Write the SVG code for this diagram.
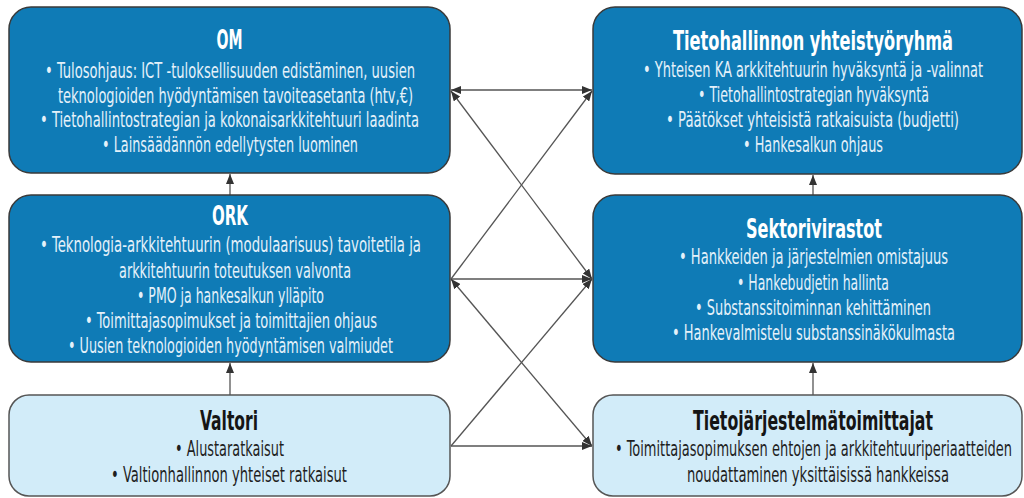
<svg xmlns="http://www.w3.org/2000/svg" width="1024" height="498" viewBox="0 0 1024 498">
<style>
.dark{fill:#0F7BB6;stroke:#3a3a3a;stroke-width:1.5}
.light{fill:#D2ECF9;stroke:#555;stroke-width:1.5}
text{font-family:"Liberation Sans Narrow","DejaVu Sans Condensed","Liberation Sans",sans-serif;text-anchor:middle}
.t{font-size:26px;font-weight:bold}
.b{font-size:21px}
.dark-t{fill:#FFFFFF}
.dark-b{fill:#E4F1FA}
.light-t{fill:#151515}
.light-b{fill:#1f1f1f}
.c{stroke:#555;stroke-width:1.3;fill:none}
</style>
<defs>
<marker id="ah" viewBox="0 0 10 8" refX="10" refY="4" markerWidth="10" markerHeight="8" markerUnits="userSpaceOnUse" orient="auto-start-reverse">
<path d="M0,0 L10,4 L0,8 z" fill="#333"/>
</marker>
</defs>
<rect width="1024" height="498" fill="#fff"/>
<g id="connectors">
<line class="c" x1="451" y1="90" x2="592" y2="90" marker-start="url(#ah)" marker-end="url(#ah)"/>
<line class="c" x1="451" y1="91" x2="592" y2="279" marker-start="url(#ah)" marker-end="url(#ah)"/>
<line class="c" x1="451" y1="279" x2="592" y2="91" marker-end="url(#ah)"/>
<line class="c" x1="451" y1="279" x2="592" y2="279" marker-end="url(#ah)"/>
<line class="c" x1="451" y1="279" x2="592" y2="446" marker-start="url(#ah)" marker-end="url(#ah)"/>
<line class="c" x1="451" y1="446" x2="592" y2="279" marker-end="url(#ah)"/>
<line class="c" x1="451" y1="446" x2="592" y2="446" marker-end="url(#ah)"/>
<line class="c" x1="230" y1="195" x2="230" y2="174" marker-end="url(#ah)"/>
<line class="c" x1="230" y1="395" x2="230" y2="363" marker-end="url(#ah)"/>
<line class="c" x1="813" y1="195" x2="813" y2="175" marker-end="url(#ah)"/>
<line class="c" x1="813" y1="395" x2="813" y2="363" marker-end="url(#ah)"/>
</g>
<g id="om">
<rect class="dark" x="9" y="7" width="441" height="166" rx="22"/>
<text class="t dark-t" transform="translate(229.5,49) scale(0.62,1)" textLength="41.9" lengthAdjust="spacingAndGlyphs">OM</text>
<text class="b dark-b" transform="translate(230,78) scale(0.62,1)" textLength="596.8" lengthAdjust="spacingAndGlyphs">• Tulosohjaus: ICT -tuloksellisuuden edistäminen, uusien</text>
<text class="b dark-b" transform="translate(235.5,103) scale(0.62,1)" textLength="572.6" lengthAdjust="spacingAndGlyphs">teknologioiden hyödyntämisen tavoiteasetanta (htv,€)</text>
<text class="b dark-b" transform="translate(229.5,127) scale(0.62,1)" textLength="611.3" lengthAdjust="spacingAndGlyphs">• Tietohallintostrategian ja kokonaisarkkitehtuuri laadinta</text>
<text class="b dark-b" transform="translate(230,152) scale(0.62,1)" textLength="412.9" lengthAdjust="spacingAndGlyphs">• Lainsäädännön edellytysten luominen</text>
</g>
<g id="tietohallinnon">
<rect class="dark" x="593" y="7" width="429" height="167" rx="22"/>
<text class="t dark-t" transform="translate(813,50) scale(0.62,1)" textLength="451.6" lengthAdjust="spacingAndGlyphs">Tietohallinnon  yhteistyöryhmä</text>
<text class="b dark-b" transform="translate(813,77) scale(0.62,1)" textLength="548.4" lengthAdjust="spacingAndGlyphs">• Yhteisen KA arkkitehtuurin hyväksyntä ja -valinnat</text>
<text class="b dark-b" transform="translate(813.5,102) scale(0.62,1)" textLength="372.6" lengthAdjust="spacingAndGlyphs">• Tietohallintostrategian hyväksyntä</text>
<text class="b dark-b" transform="translate(812.5,127) scale(0.62,1)" textLength="472.6" lengthAdjust="spacingAndGlyphs">• Päätökset yhteisistä ratkaisuista (budjetti)</text>
<text class="b dark-b" transform="translate(813,152) scale(0.62,1)" textLength="225.8" lengthAdjust="spacingAndGlyphs">• Hankesalkun ohjaus</text>
</g>
<g id="ork">
<rect class="dark" x="9" y="195" width="441" height="167" rx="22"/>
<text class="t dark-t" transform="translate(230,225) scale(0.62,1)" textLength="58.1" lengthAdjust="spacingAndGlyphs">ORK</text>
<text class="b dark-b" transform="translate(230.5,252) scale(0.62,1)" textLength="614.5" lengthAdjust="spacingAndGlyphs">• Teknologia-arkkitehtuurin (modulaarisuus) tavoitetila ja</text>
<text class="b dark-b" transform="translate(235,278) scale(0.62,1)" textLength="374.2" lengthAdjust="spacingAndGlyphs">arkkitehtuurin toteutuksen valvonta</text>
<text class="b dark-b" transform="translate(230.5,303) scale(0.62,1)" textLength="301.6" lengthAdjust="spacingAndGlyphs">• PMO ja hankesalkun ylläpito</text>
<text class="b dark-b" transform="translate(231,328) scale(0.62,1)" textLength="471" lengthAdjust="spacingAndGlyphs">• Toimittajasopimukset ja toimittajien ohjaus</text>
<text class="b dark-b" transform="translate(230.5,353) scale(0.62,1)" textLength="524.2" lengthAdjust="spacingAndGlyphs">• Uusien teknologioiden hyödyntämisen valmiudet</text>
</g>
<g id="sektorivirastot">
<rect class="dark" x="593" y="195" width="429" height="167" rx="22"/>
<text class="t dark-t" transform="translate(814,238) scale(0.62,1)" textLength="219.4" lengthAdjust="spacingAndGlyphs">Sektorivirastot</text>
<text class="b dark-b" transform="translate(813.5,264) scale(0.62,1)" textLength="433.9" lengthAdjust="spacingAndGlyphs">• Hankkeiden ja järjestelmien omistajuus</text>
<text class="b dark-b" transform="translate(813,290) scale(0.62,1)" textLength="245.2" lengthAdjust="spacingAndGlyphs">• Hankebudjetin hallinta</text>
<text class="b dark-b" transform="translate(813,315) scale(0.62,1)" textLength="380.6" lengthAdjust="spacingAndGlyphs">• Substanssitoiminnan kehittäminen</text>
<text class="b dark-b" transform="translate(813.5,340) scale(0.62,1)" textLength="456.5" lengthAdjust="spacingAndGlyphs">• Hankevalmistelu substanssinäkökulmasta</text>
</g>
<g id="valtori">
<rect class="light" x="9" y="395" width="441" height="101" rx="20"/>
<text class="t light-t" transform="translate(229,430) scale(0.62,1)" textLength="93.5" lengthAdjust="spacingAndGlyphs">Valtori</text>
<text class="b light-b" transform="translate(229.5,456) scale(0.62,1)" textLength="175.8" lengthAdjust="spacingAndGlyphs">• Alustaratkaisut</text>
<text class="b light-b" transform="translate(229,482) scale(0.62,1)" textLength="380.6" lengthAdjust="spacingAndGlyphs">• Valtionhallinnon yhteiset ratkaisut</text>
</g>
<g id="tietojarjestelmatoimittajat">
<rect class="light" x="593" y="395" width="429" height="101" rx="20"/>
<text class="t light-t" transform="translate(813,430) scale(0.62,1)" textLength="387.1" lengthAdjust="spacingAndGlyphs">Tietojärjestelmätoimittajat</text>
<text class="b light-b" transform="translate(813.5,456) scale(0.62,1)" textLength="640.3" lengthAdjust="spacingAndGlyphs">• Toimittajasopimuksen ehtojen ja arkkitehtuuriperiaatteiden</text>
<text class="b light-b" transform="translate(818,482) scale(0.62,1)" textLength="422.6" lengthAdjust="spacingAndGlyphs">noudattaminen yksittäisissä hankkeissa</text>
</g>
</svg>
